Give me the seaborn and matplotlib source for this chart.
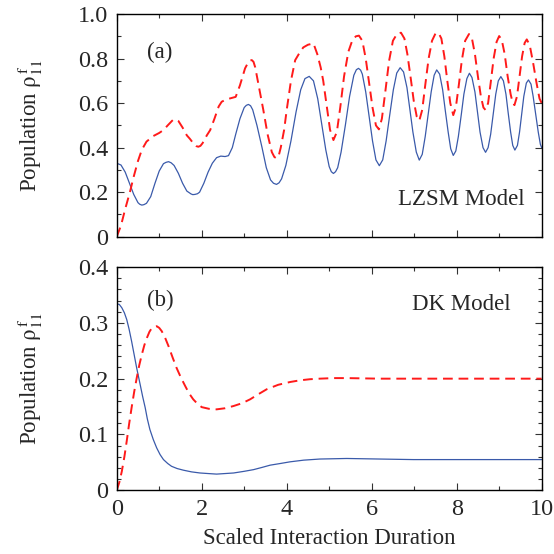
import numpy as np
import matplotlib
matplotlib.use('Agg')
import matplotlib.pyplot as plt
from matplotlib.ticker import MultipleLocator
import seaborn as sns

# panel (a): LZSM model
lzsm_x_blue = [0.00, 0.10, 0.20, 0.30, 0.40, 0.50, 0.54, 0.59, 0.64, 0.70, 0.80, 0.90, 1.00, 1.10, 1.16,
               1.22, 1.28, 1.35, 1.45, 1.55, 1.65, 1.75, 1.79, 1.84, 1.90, 1.95, 2.05, 2.15, 2.25, 2.35,
               2.45, 2.55, 2.63, 2.72, 2.80, 2.90, 3.00, 3.05, 3.10, 3.15, 3.20, 3.30, 3.42, 3.52, 3.62,
               3.69, 3.76, 3.82, 3.88, 3.98, 4.10, 4.22, 4.33, 4.43, 4.53, 4.63, 4.73, 4.83, 4.92, 5.00,
               5.05, 5.10, 5.15, 5.20, 5.28, 5.38, 5.48, 5.58, 5.64, 5.69, 5.74, 5.78, 5.86, 5.94, 6.02,
               6.10, 6.18, 6.26, 6.34, 6.42, 6.51, 6.59, 6.67, 6.75, 6.83, 6.90, 6.97, 7.05, 7.12, 7.19,
               7.26, 7.33, 7.40, 7.47, 7.53, 7.60, 7.67, 7.73, 7.80, 7.86, 7.92, 7.98, 8.04, 8.11, 8.17,
               8.24, 8.30, 8.36, 8.43, 8.49, 8.55, 8.62, 8.68, 8.74, 8.80, 8.86, 8.92, 8.98, 9.04, 9.10,
               9.16, 9.21, 9.27, 9.32, 9.37, 9.43, 9.48, 9.53, 9.58, 9.64, 9.69, 9.75, 9.80, 9.86, 9.92,
               9.97, 10.00]
lzsm_y_blue = [0.330, 0.322, 0.290, 0.240, 0.190, 0.153, 0.146, 0.142, 0.144, 0.150, 0.180, 0.240, 0.295, 0.328, 0.334,
               0.337, 0.332, 0.320, 0.285, 0.240, 0.205, 0.192, 0.189, 0.190, 0.193, 0.200, 0.240, 0.290, 0.330, 0.355,
               0.362, 0.360, 0.364, 0.400, 0.460, 0.530, 0.580, 0.590, 0.594, 0.588, 0.570, 0.500, 0.400, 0.310, 0.255,
               0.240, 0.235, 0.242, 0.260, 0.320, 0.430, 0.560, 0.660, 0.710, 0.720, 0.700, 0.620, 0.500, 0.390, 0.315,
               0.292, 0.284, 0.292, 0.310, 0.380, 0.500, 0.630, 0.725, 0.750, 0.756, 0.748, 0.730, 0.650, 0.540, 0.430,
               0.345, 0.319, 0.345, 0.430, 0.540, 0.660, 0.735, 0.759, 0.740, 0.670, 0.570, 0.470, 0.380, 0.344, 0.370,
               0.450, 0.550, 0.650, 0.725, 0.749, 0.730, 0.660, 0.570, 0.470, 0.395, 0.365, 0.385, 0.450, 0.550, 0.640,
               0.710, 0.734, 0.715, 0.650, 0.560, 0.470, 0.400, 0.379, 0.400, 0.460, 0.550, 0.640, 0.700, 0.719, 0.700,
               0.640, 0.560, 0.470, 0.410, 0.389, 0.410, 0.470, 0.550, 0.630, 0.690, 0.704, 0.685, 0.630, 0.550, 0.470,
               0.415, 0.400]

lzsm_x_red = [0.00, 0.10, 0.20, 0.31, 0.40, 0.50, 0.59, 0.70, 0.86, 1.00, 1.10, 1.20, 1.30, 1.33, 1.37,
              1.41, 1.45, 1.55, 1.65, 1.72, 1.82, 1.87, 1.92, 1.97, 2.02, 2.12, 2.20, 2.30, 2.40, 2.47,
              2.57, 2.67, 2.80, 2.90, 3.02, 3.10, 3.14, 3.18, 3.22, 3.26, 3.35, 3.45, 3.55, 3.65, 3.71,
              3.76, 3.81, 3.86, 3.94, 4.00, 4.10, 4.20, 4.30, 4.39, 4.50, 4.63, 4.72, 4.80, 4.86, 4.94,
              5.02, 5.10, 5.18, 5.26, 5.35, 5.45, 5.55, 5.63, 5.70, 5.78, 5.86, 5.94, 6.02, 6.10, 6.17,
              6.24, 6.32, 6.41, 6.50, 6.60, 6.69, 6.77, 6.84, 6.92, 6.99, 7.06, 7.12, 7.19, 7.26, 7.34,
              7.42, 7.50, 7.57, 7.64, 7.71, 7.78, 7.85, 7.92, 7.98, 8.05, 8.12, 8.20, 8.29, 8.36, 8.43,
              8.50, 8.57, 8.63, 8.68, 8.74, 8.80, 8.87, 8.94, 9.00, 9.06, 9.13, 9.20, 9.27, 9.32, 9.36,
              9.42, 9.48, 9.54, 9.60, 9.65, 9.72, 9.80, 9.88, 9.95, 10.00]
lzsm_y_red = [0.000, 0.050, 0.125, 0.200, 0.270, 0.340, 0.390, 0.427, 0.452, 0.466, 0.479, 0.500, 0.520, 0.525, 0.527,
              0.525, 0.520, 0.490, 0.455, 0.440, 0.415, 0.407, 0.404, 0.408, 0.420, 0.455, 0.479, 0.530, 0.585, 0.606,
              0.616, 0.621, 0.628, 0.680, 0.756, 0.785, 0.792, 0.793, 0.785, 0.760, 0.670, 0.569, 0.460, 0.380, 0.358,
              0.352, 0.362, 0.400, 0.480, 0.569, 0.700, 0.793, 0.825, 0.850, 0.862, 0.868, 0.820, 0.760, 0.700, 0.590,
              0.480, 0.434, 0.470, 0.580, 0.720, 0.830, 0.885, 0.900, 0.903, 0.880, 0.800, 0.690, 0.580, 0.500, 0.482,
              0.530, 0.650, 0.790, 0.880, 0.912, 0.916, 0.890, 0.820, 0.710, 0.610, 0.540, 0.521, 0.570, 0.680, 0.800,
              0.880, 0.912, 0.916, 0.890, 0.810, 0.700, 0.600, 0.546, 0.580, 0.680, 0.790, 0.880, 0.910, 0.890, 0.820,
              0.720, 0.630, 0.580, 0.569, 0.600, 0.690, 0.800, 0.875, 0.901, 0.885, 0.820, 0.720, 0.640, 0.600, 0.591,
              0.630, 0.720, 0.810, 0.870, 0.886, 0.860, 0.780, 0.690, 0.620, 0.600]

# panel (b): DK model
dk_x_blue = [0.00, 0.06, 0.12, 0.18, 0.235, 0.29, 0.35, 0.41, 0.47, 0.55, 0.61, 0.67, 0.72, 0.78, 0.86,
             0.94, 1.02, 1.10, 1.20, 1.29, 1.42, 1.57, 1.76, 1.96, 2.15, 2.35, 2.55, 2.75, 3.00, 3.22,
             3.42, 3.61, 3.85, 4.08, 4.40, 4.78, 5.10, 5.41, 5.80, 6.19, 6.98, 8.00, 9.00, 10.00]
dk_y_blue = [0.334, 0.333, 0.327, 0.318, 0.306, 0.289, 0.267, 0.243, 0.219, 0.190, 0.168, 0.148, 0.128, 0.109, 0.091,
             0.076, 0.064, 0.055, 0.048, 0.043, 0.039, 0.036, 0.033, 0.031, 0.030, 0.029, 0.030, 0.031, 0.034, 0.037,
             0.041, 0.045, 0.048, 0.051, 0.054, 0.056, 0.0565, 0.057, 0.0565, 0.056, 0.055, 0.055, 0.055, 0.055]

dk_x_red = [0.00, 0.06, 0.12, 0.18, 0.235, 0.29, 0.35, 0.41, 0.47, 0.53, 0.59, 0.65, 0.71, 0.77, 0.82,
            0.88, 0.94, 1.00, 1.06, 1.14, 1.22, 1.31, 1.41, 1.51, 1.61, 1.70, 1.80, 1.90, 2.00, 2.17,
            2.35, 2.55, 2.75, 2.95, 3.14, 3.33, 3.53, 3.80, 4.08, 4.31, 4.55, 4.78, 5.10, 5.41, 6.19,
            7.00, 8.00, 9.00, 10.00]
dk_y_red = [0.000, 0.014, 0.034, 0.060, 0.088, 0.118, 0.148, 0.176, 0.201, 0.224, 0.243, 0.260, 0.273, 0.284, 0.290,
            0.293, 0.294, 0.291, 0.285, 0.273, 0.258, 0.239, 0.219, 0.202, 0.187, 0.174, 0.163, 0.155, 0.149, 0.146,
            0.145, 0.147, 0.151, 0.156, 0.163, 0.172, 0.181, 0.189, 0.194, 0.197, 0.199, 0.200, 0.201, 0.201, 0.200,
            0.200, 0.200, 0.200, 0.200]

BLUE = '#3a5aaa'
RED = '#ff1a1a'

sns.set_style('ticks')
plt.rcParams['font.family'] = ['Liberation Serif', 'DejaVu Serif']
plt.rcParams['mathtext.fontset'] = 'stix'

fig = plt.figure(figsize=(5.54, 5.54), dpi=100)
ax1 = fig.add_axes([0.2107, 0.5727, 0.767, 0.402])
ax2 = fig.add_axes([0.2107, 0.1150, 0.767, 0.4030])

panels = [
    (ax1, lzsm_x_blue, lzsm_y_blue, lzsm_x_red, lzsm_y_red, 1.0, 0.2, 0.1, '(a)', 0.826, 'LZSM Model', 0.165),
    (ax2, dk_x_blue, dk_y_blue, dk_x_red, dk_y_red, 0.4, 0.1, 0.02, '(b)', 0.341, 'DK Model', 0.333),
]

for ax, xb, yb, xr, yr, ymax, major, minor, tag, tag_y, name, name_y in panels:
    sns.lineplot(x=xb, y=yb, ax=ax, color=BLUE, lw=0.9, estimator=None)
    sns.lineplot(x=xr, y=yr, ax=ax, color=RED, lw=1.4, estimator=None, dashes=False)
    ax.lines[-1].set_dashes([5, 3])
    ax.set_xlim(0, 10)
    ax.set_ylim(0, ymax)
    ax.xaxis.set_major_locator(MultipleLocator(2))
    ax.xaxis.set_minor_locator(MultipleLocator(1))
    ax.yaxis.set_major_locator(MultipleLocator(major))
    ax.yaxis.set_minor_locator(MultipleLocator(minor))
    ax.tick_params(which='both', direction='in', top=True, right=True, labelsize=17.5, pad=6,
                   color='#333333', width=0.8)
    ax.tick_params(which='major', length=5)
    ax.tick_params(which='minor', length=3)
    for sp in ax.spines.values():
        sp.set_linewidth(1.0)
        sp.set_color('black')
    ax.set_ylabel(r'Population $\mathrm{ρ}_{11}^{\,\mathrm{f}}$', fontsize=16.5)
    ax.text(1.02, tag_y, tag, fontsize=16.5, ha='center', va='center')
    ax.text(8.12, name_y, name, fontsize=16.5, ha='center', va='center')
    ax.yaxis.set_major_formatter(plt.FuncFormatter(lambda v, p: '0' if abs(v) < 1e-9 else f'{v:.1f}'))

ax1.tick_params(labelbottom=False)
ax2.set_xlabel('Scaled Interaction Duration', fontsize=16.5, labelpad=6)
ax1.yaxis.set_label_coords(-0.168, 0.5)
ax2.yaxis.set_label_coords(-0.168, 0.5)

fig.savefig('out.png', dpi=100)
